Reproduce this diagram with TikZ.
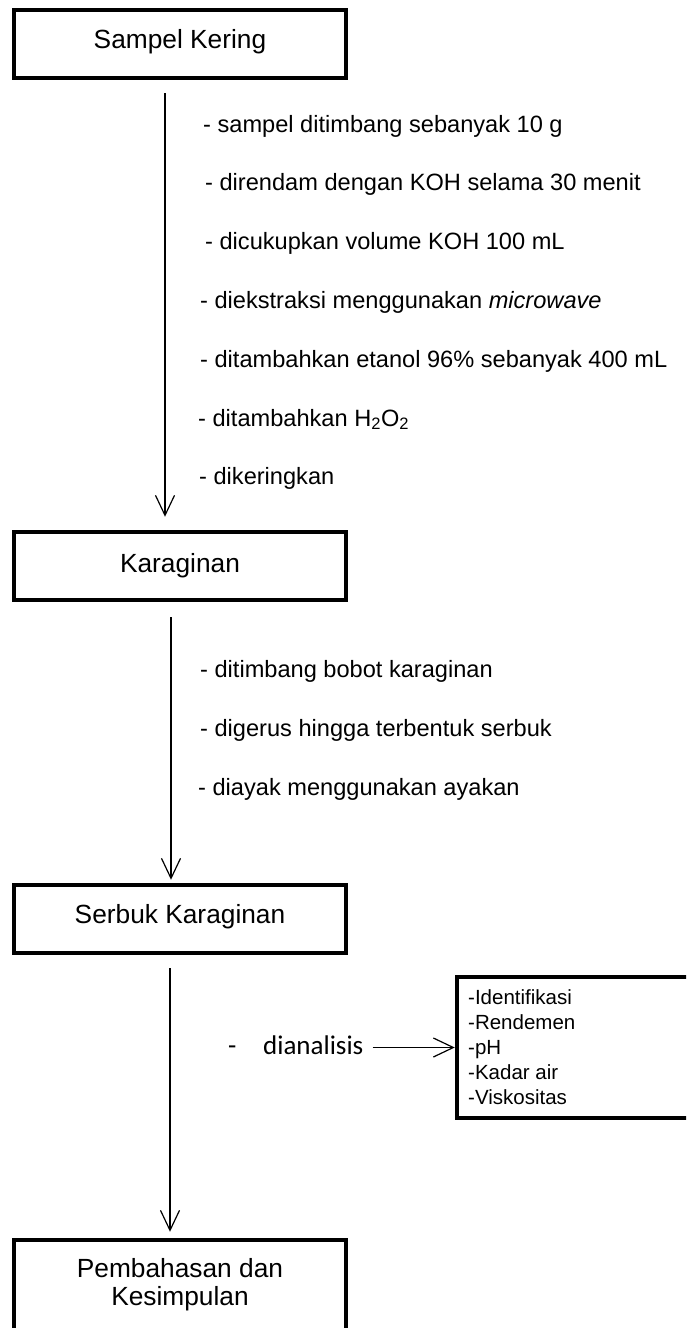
\documentclass[tikz,border=0pt]{standalone}
\usepackage{fontspec}
\setmainfont{Liberation Sans}
\newfontfamily\calibrifont{Carlito}
\usetikzlibrary{arrows.meta}
\begin{document}
\begin{tikzpicture}[x=1pt,y=-1pt,
  box/.style={draw,line width=4.5pt,minimum width=332pt,minimum height=68pt,inner sep=0pt,outer sep=2.25pt},
  flow/.style={line width=1.2pt,-{Straight Barb[length=20pt,width=19pt,line width=1.2pt]}},
  boxtxt/.style={font=\fontsize{26.3}{29}\selectfont,inner sep=0pt,anchor=base},
  steptxt/.style={font=\fontsize{23.6}{26}\selectfont,inner sep=0pt,anchor=base west},
  listtxt/.style={font=\fontsize{20.5}{25}\selectfont,inner sep=0pt,anchor=base west},
  caltxt/.style={font=\calibrifont\fontsize{27}{30}\selectfont,inner sep=0pt,anchor=base west},
]
\clip (0,0) rectangle (686,1328);
\fill[white] (0,0) rectangle (686,1328);

% boxes
\node[box] (b1) at (180,44) {};
\node[boxtxt] (t1) at (180,48) {Sampel Kering};
\node[box] (b2) at (180,566) {};
\node[boxtxt] (t2) at (180,572) {Karaginan};
\node[box] (b3) at (180,919) {};
\node[boxtxt] (t3) at (180,923) {Serbuk Karaginan};
\node[box,minimum height=105pt] (b4) at (180,1292.5) {};
\node[boxtxt] (t4a) at (180,1277) {Pembahasan dan};
\node[boxtxt] (t4b) at (180,1305) {Kesimpulan};

% arrows
\draw[flow] ([xshift=-15pt,yshift=-13pt]b1.south) -- ([xshift=-15pt,yshift=13pt]b2.north);
\draw[flow] ([xshift=-9pt,yshift=-15pt]b2.south) -- ([xshift=-9pt,yshift=3pt]b3.north);
\draw[flow] ([xshift=-10pt,yshift=-13pt]b3.south) -- ([xshift=-10pt,yshift=6pt]b4.north);

% section 1
\node[steptxt] (s1) at (203,132) {- sampel ditimbang sebanyak 10 g};
\node[steptxt] (s2) at (205,190.8) {- direndam dengan KOH selama 30 menit};
\node[steptxt] (s3) at (205,249.6) {- dicukupkan volume KOH 100 mL};
\node[steptxt] (s4) at (200,308.4) {- diekstraksi menggunakan \textit{microwave}};
\node[steptxt] (s5) at (200,367.2) {- ditambahkan etanol 96\% sebanyak 400 mL};
\node[steptxt] (s6) at (198,426) {- ditambahkan H\textsubscript{2}O\textsubscript{2}};
\node[steptxt] (s7) at (199,484.8) {- dikeringkan};

% section 2
\node[steptxt] (r1) at (200,677) {- ditimbang bobot karaginan};
\node[steptxt] (r2) at (200,736) {- digerus hingga terbentuk serbuk};
\node[steptxt] (r3) at (198,795) {- diayak menggunakan ayakan};

% section 3
\node[caltxt] (dash) at (228,1054) {-};
\node[caltxt] (dn) at (263,1054) {dianalisis};
\node[box,minimum width=243pt,minimum height=141pt] (lb) at (578.5,1047.5) {};
\coordinate (hstart) at ([xshift=9pt]dn.east |- lb.west);
\draw[flow] (hstart) -- (lb.west);
\node[listtxt] (l1) at (468,1004) {-Identifikasi};
\node[listtxt] (l2) at (468,1029) {-Rendemen};
\node[listtxt] (l3) at (468,1054) {-pH};
\node[listtxt] (l4) at (468,1079) {-Kadar air};
\node[listtxt] (l5) at (468,1104) {-Viskositas};
\end{tikzpicture}
\end{document}
